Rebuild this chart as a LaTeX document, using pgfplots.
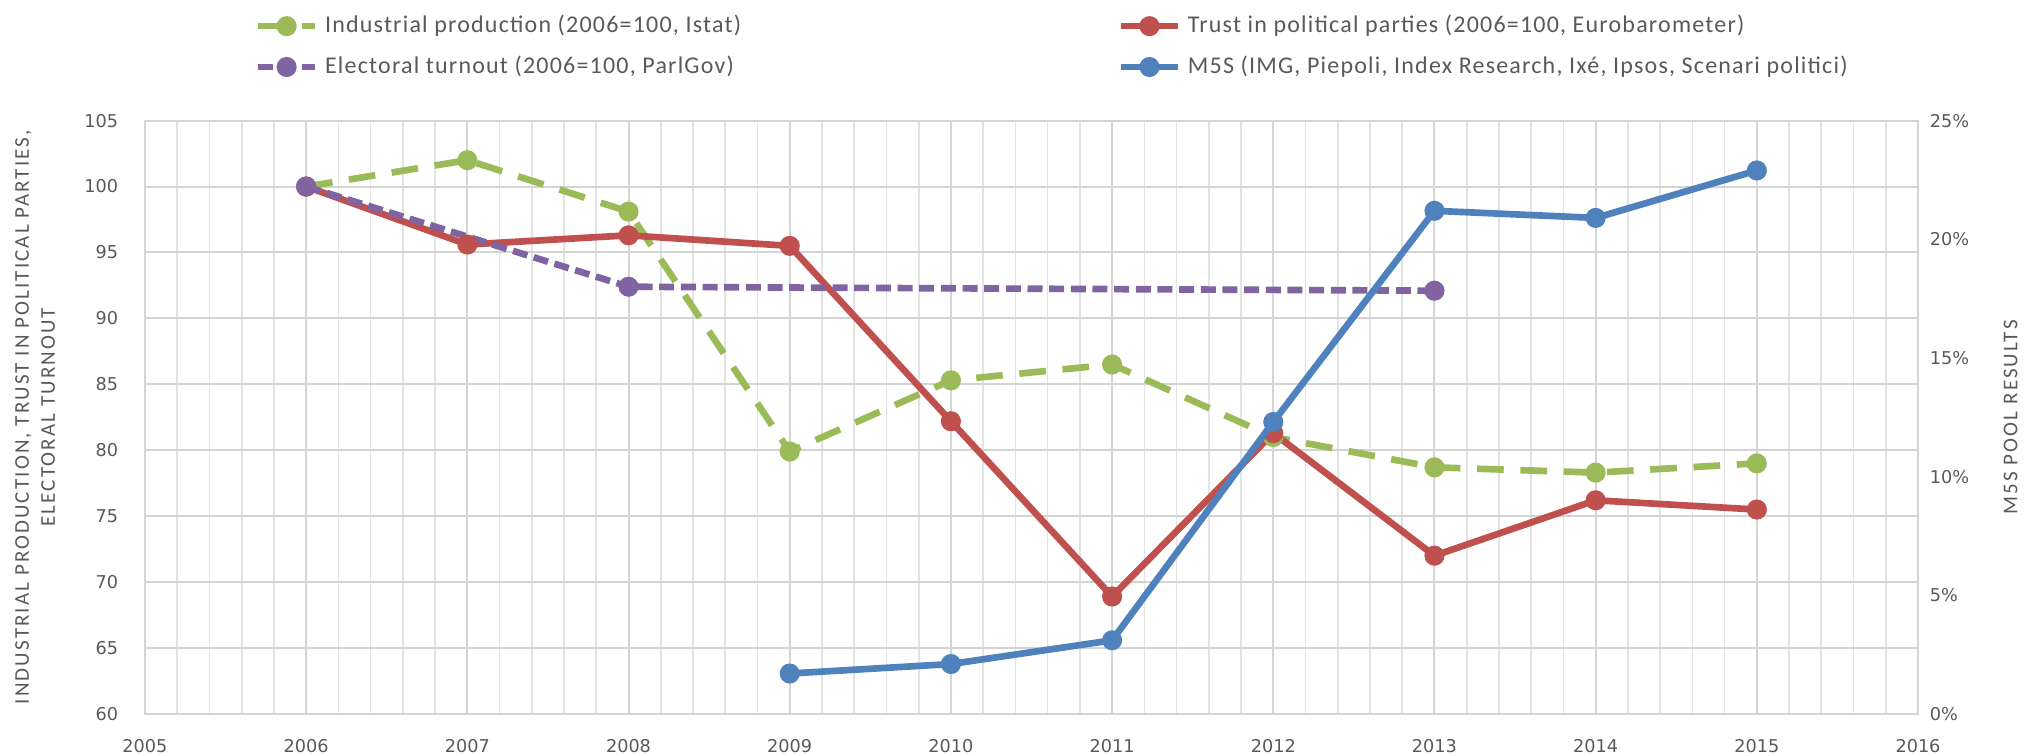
\documentclass[border=0pt]{standalone}
\usepackage{pgfplots}
\pgfplotsset{compat=1.18}
\usepackage{fontspec}
\setmainfont{Carlito}
\newfontfamily\legfont[LetterSpace=5]{Carlito}
\newfontfamily\labfont[LetterSpace=10]{Carlito}
\newfontfamily\tickfont{DejaVu Sans}
\definecolor{cgreen}{HTML}{9BBB59}
\definecolor{cred}{HTML}{C0504D}
\definecolor{cpurple}{HTML}{8064A2}
\definecolor{cblue}{HTML}{4F81BD}
\definecolor{cgrid}{HTML}{D4D4D4}
\definecolor{cminor}{HTML}{E3E3E3}
\definecolor{ctext}{HTML}{595959}
\begin{document}
\begin{tikzpicture}
\pgfplotsset{
  common/.style={
    width=532pt, height=178pt, scale only axis,
    xmin=2005, xmax=2016,
    tick style={draw=none},
    /pgf/number format/assume math mode=true,
    ticklabel style={font=\tickfont\fontsize{5.3}{6}\selectfont, text=ctext},
    label style={font=\labfont\fontsize{6.3}{7.8}\selectfont, text=ctext},
  }
}
\begin{axis}[common, name=ax,
  axis line style={cgrid},
  ymin=60, ymax=105, ytick={60,65,...,105},
  xtick={2005,2006,...,2016},
  minor xtick={2005,2005.2,...,2016},
  xticklabel style={/pgf/number format/1000 sep=, yshift=-4pt},
  yticklabel style={xshift=-4.5pt},
  grid=both,
  major grid style={cgrid, line width=0.6pt},
  minor grid style={cminor, line width=0.5pt},
  ylabel style={align=center, yshift=2pt},
  ylabel={INDUSTRIAL PRODUCTION, TRUST IN POLITICAL PARTIES,\\ELECTORAL TURNOUT},
  every axis plot/.append style={line width=2pt, mark=*, mark size=2pt},
]
\addplot[cgreen, dash pattern=on 8pt off 5pt, mark options={solid}] coordinates {
(2006,100.0) (2007,102.0) (2008,98.1) (2009,79.9) (2010,85.3) (2011,86.5) (2012,81.0) (2013,78.7) (2014,78.3) (2015,79.0)};
\addplot[cred] coordinates {
(2006,100.0) (2007,95.6) (2008,96.3) (2009,95.5) (2010,82.2) (2011,68.9) (2012,81.3) (2013,72.0) (2014,76.2) (2015,75.5)};
\addplot[cpurple, dash pattern=on 4.5pt off 2pt, mark options={solid}] coordinates {
(2006,100.0) (2008,92.4) (2013,92.1)};
\end{axis}
\begin{axis}[common,
  axis y line*=right, axis x line=none,
  ymin=0, ymax=25, ytick={0,5,...,25},
  yticklabel={\pgfmathprintnumber{\tick}\%},
  ylabel={M5S POOL RESULTS},
  ylabel style={yshift=-3.5pt},
  y axis line style={draw=none},
  every axis plot/.append style={line width=2pt, mark=*, mark size=2pt},
  legend columns=2,
  legend style={draw=none, fill=none, font=\legfont\fontsize{7.2}{8.6}\selectfont, text=ctext,
    at={(0.513,1.0)}, anchor=south, yshift=8.5pt, row sep=1.5pt,
    /tikz/every even column/.append style={column sep=111pt}},
  legend cell align=left,
]
\addlegendimage{cgreen, line width=2pt, dash pattern=on 8pt off 5pt, mark=*, mark size=2pt, mark options={solid}}
\addlegendentry{Industrial production (2006=100, Istat)}
\addlegendimage{cred, line width=2pt, mark=*, mark size=2pt}
\addlegendentry{Trust in political parties (2006=100, Eurobarometer)}
\addlegendimage{cpurple, line width=2pt, dash pattern=on 4.5pt off 2pt, mark=*, mark size=2pt, mark options={solid}}
\addlegendentry{Electoral turnout (2006=100, ParlGov)}
\addplot[cblue] coordinates {
(2009,1.7) (2010,2.1) (2011,3.1) (2012,12.3) (2013,21.2) (2014,20.9) (2015,22.9)};
\addlegendentry{M5S (IMG, Piepoli, Index Research, Ixé, Ipsos, Scenari politici)}
\end{axis}
\pgfresetboundingbox
\path (ax.south west) ++(-43.5pt,-12.6pt) rectangle ++(610pt,226.8pt);
\end{tikzpicture}
\end{document}
